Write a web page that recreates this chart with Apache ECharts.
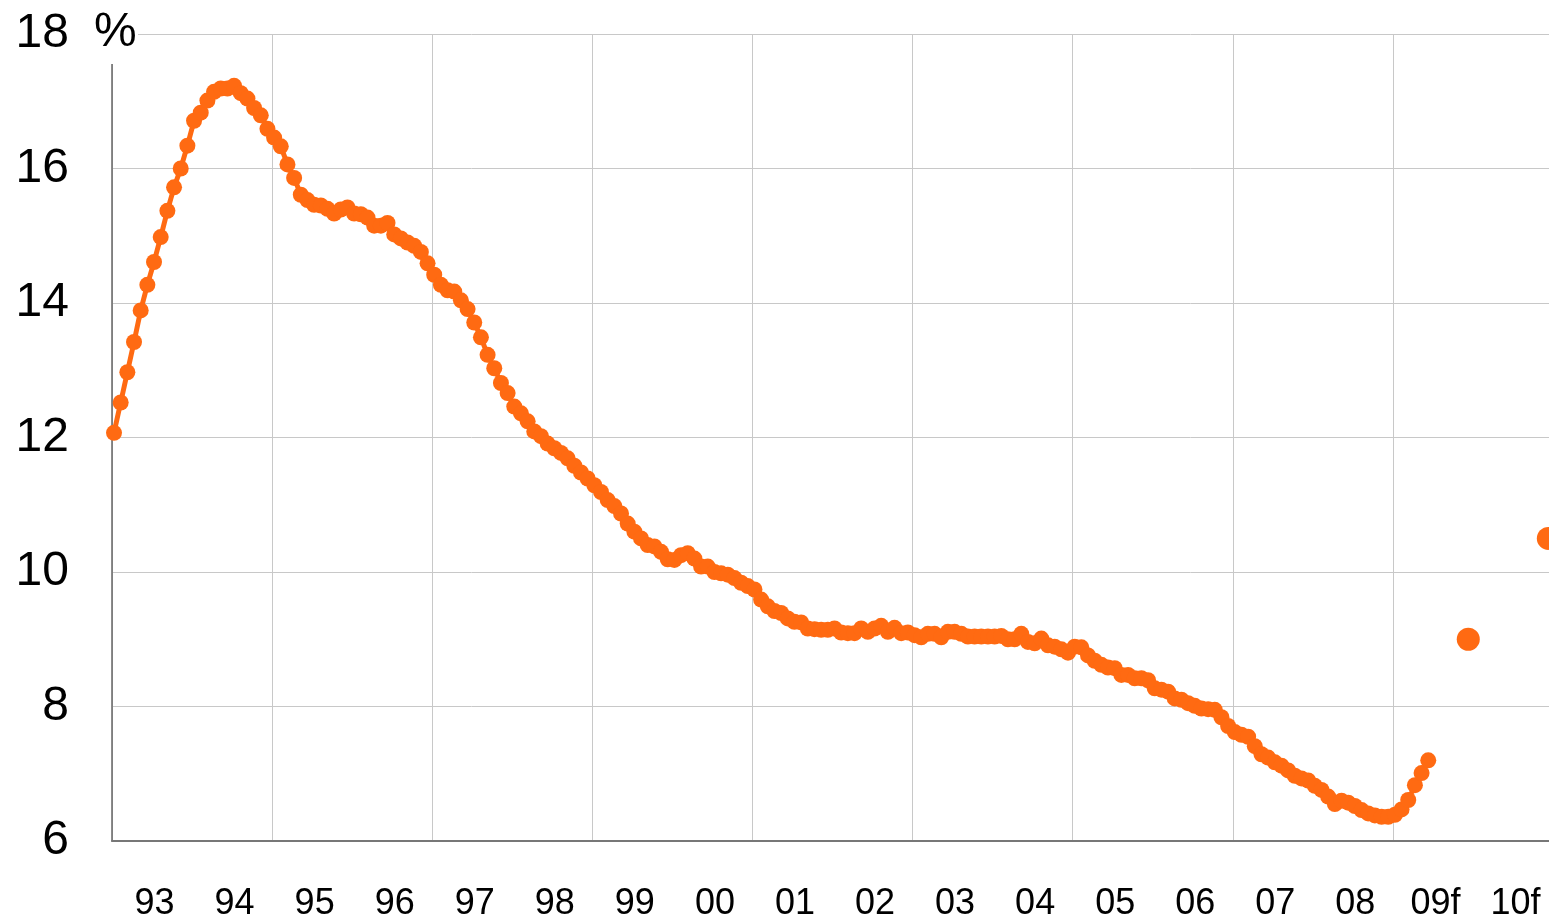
<!DOCTYPE html>
<html>
<head>
<meta charset="utf-8">
<title>Rate 1993-2010f</title>
<script src="https://cdn.jsdelivr.net/npm/echarts@6/dist/echarts.min.js"></script>
<style>
  html, body { margin: 0; padding: 0; background: #fff; }
  #main { width: 1549px; height: 923px; }
</style>
</head>
<body>
<div id="main"></div>
<script type="text/javascript">
// x axis labels, one per year
var yearLabels = ['93', '94', '95', '96', '97', '98', '99', '00', '01', '02', '03', '04', '05', '06', '07', '08', '09f', '10f'];
var firstYear = 1993;
var lastYear = 2011;

// monthly values, Jan 1993 .. Jun 2009 (%)
var monthlyRates = [
  12.07, 12.52, 12.97, 13.42, 13.89, 14.27, 14.61, 14.98, 15.37, 15.72, 16.00, 16.34,
  16.71, 16.83, 17.01, 17.14, 17.19, 17.19, 17.23, 17.12, 17.04, 16.90, 16.79, 16.59,
  16.46, 16.33, 16.06, 15.86, 15.61, 15.53, 15.46, 15.45, 15.40, 15.33, 15.39, 15.42,
  15.33, 15.32, 15.27, 15.15, 15.15, 15.19, 15.02, 14.96, 14.90, 14.85, 14.76, 14.59,
  14.42, 14.27, 14.19, 14.17, 14.04, 13.91, 13.71, 13.49, 13.23, 13.03, 12.81, 12.66,
  12.46, 12.36, 12.24, 12.09, 12.02, 11.91, 11.84, 11.77, 11.69, 11.58, 11.48, 11.39,
  11.29, 11.19, 11.07, 10.98, 10.87, 10.72, 10.60, 10.50, 10.40, 10.38, 10.30, 10.19,
  10.18, 10.25, 10.28, 10.20, 10.08, 10.08, 10.00, 9.98, 9.96, 9.91, 9.84, 9.79,
  9.74, 9.59, 9.49, 9.42, 9.39, 9.31, 9.26, 9.25, 9.16, 9.15, 9.14, 9.14,
  9.16, 9.10, 9.09, 9.09, 9.16, 9.11, 9.16, 9.20, 9.11, 9.17, 9.09, 9.10,
  9.06, 9.03, 9.08, 9.08, 9.03, 9.11, 9.11, 9.08, 9.04, 9.04, 9.04, 9.04,
  9.04, 9.05, 9.00, 9.00, 9.08, 8.96, 8.94, 9.01, 8.91, 8.89, 8.85, 8.80,
  8.89, 8.88, 8.76, 8.68, 8.62, 8.58, 8.57, 8.47, 8.47, 8.42, 8.42, 8.39,
  8.27, 8.25, 8.22, 8.12, 8.10, 8.05, 8.01, 7.97, 7.96, 7.95, 7.84, 7.71,
  7.62, 7.58, 7.55, 7.41, 7.29, 7.24, 7.17, 7.12, 7.05, 6.97, 6.93, 6.90,
  6.82, 6.76, 6.66, 6.55, 6.60, 6.57, 6.52, 6.46, 6.41, 6.38, 6.36, 6.36,
  6.39, 6.47, 6.61, 6.83, 7.01, 7.20
];

// forecasts (year-end values)
var forecastYears = [2009, 2010];
var forecastRates = [9.0, 10.5];

var orange = '#ff6a12';

// month index -> decimal year (points sit just after the month start)
function monthToX(year, month) {
  return year + (month + 0.3) / 12;
}

var lineData = monthlyRates.map(function (v, i) {
  return [monthToX(firstYear, i), v];
});
var forecastData = forecastRates.map(function (v, i) {
  return [monthToX(forecastYears[i], 11), v];
});

var myChart = echarts.init(document.getElementById('main'), null, { renderer: 'canvas' });

var option = {
  animation: false,
  backgroundColor: '#fff',
  textStyle: { fontFamily: 'Liberation Sans, Arial, sans-serif' },
  // plot runs a little past the right edge of the picture (cropped)
  grid: { left: 112, width: 1441, top: 34, height: 807, outerBoundsMode: 'none', containLabel: false },
  xAxis: [
    {
      type: 'value',
      min: firstYear,
      max: lastYear,
      interval: 2,
      axisLine: { show: true, onZero: false, lineStyle: { color: '#777', width: 2 } },
      axisTick: { show: false },
      axisLabel: { show: false },
      splitLine: { show: true, lineStyle: { color: '#c8c8c8', width: 1 } }
    },
    {
      type: 'category',
      position: 'bottom',
      data: yearLabels,
      boundaryGap: true,
      axisLine: { show: false },
      axisTick: { show: false },
      splitLine: { show: false },
      axisLabel: {
        interval: 0,
        margin: 45,
        fontSize: 36,
        color: '#000',
        padding: [0, 0, 0, 5]
      }
    }
  ],
  yAxis: {
    type: 'value',
    min: 6,
    max: 18,
    interval: 2,
    axisLine: { show: true, lineStyle: { color: '#666', width: 1.5 } },
    axisTick: { show: false },
    axisLabel: { fontSize: 48, color: '#000', margin: 43 },
    splitLine: { show: true, lineStyle: { color: '#c8c8c8', width: 1 } }
  },
  graphic: [
    {
      type: 'rect',
      left: 90,
      top: 8,
      shape: { width: 48, height: 56 },
      style: { fill: '#fff' },
      z: 100
    },
    {
      type: 'text',
      left: 94,
      top: 9,
      style: { text: '%', fontSize: 48, fill: '#000', fontFamily: 'Liberation Sans, Arial, sans-serif' },
      z: 101
    }
  ],
  series: [
    {
      name: 'rate',
      type: 'line',
      xAxisIndex: 0,
      data: lineData,
      showSymbol: true,
      symbol: 'circle',
      symbolSize: 16,
      itemStyle: { color: orange },
      lineStyle: { color: orange, width: 5 },
      clip: false
    },
    {
      name: 'forecast',
      type: 'scatter',
      xAxisIndex: 0,
      data: forecastData,
      symbol: 'circle',
      symbolSize: 23,
      itemStyle: { color: orange, opacity: 1 },
      clip: false
    }
  ]
};

myChart.setOption(option);
</script>
</body>
</html>
